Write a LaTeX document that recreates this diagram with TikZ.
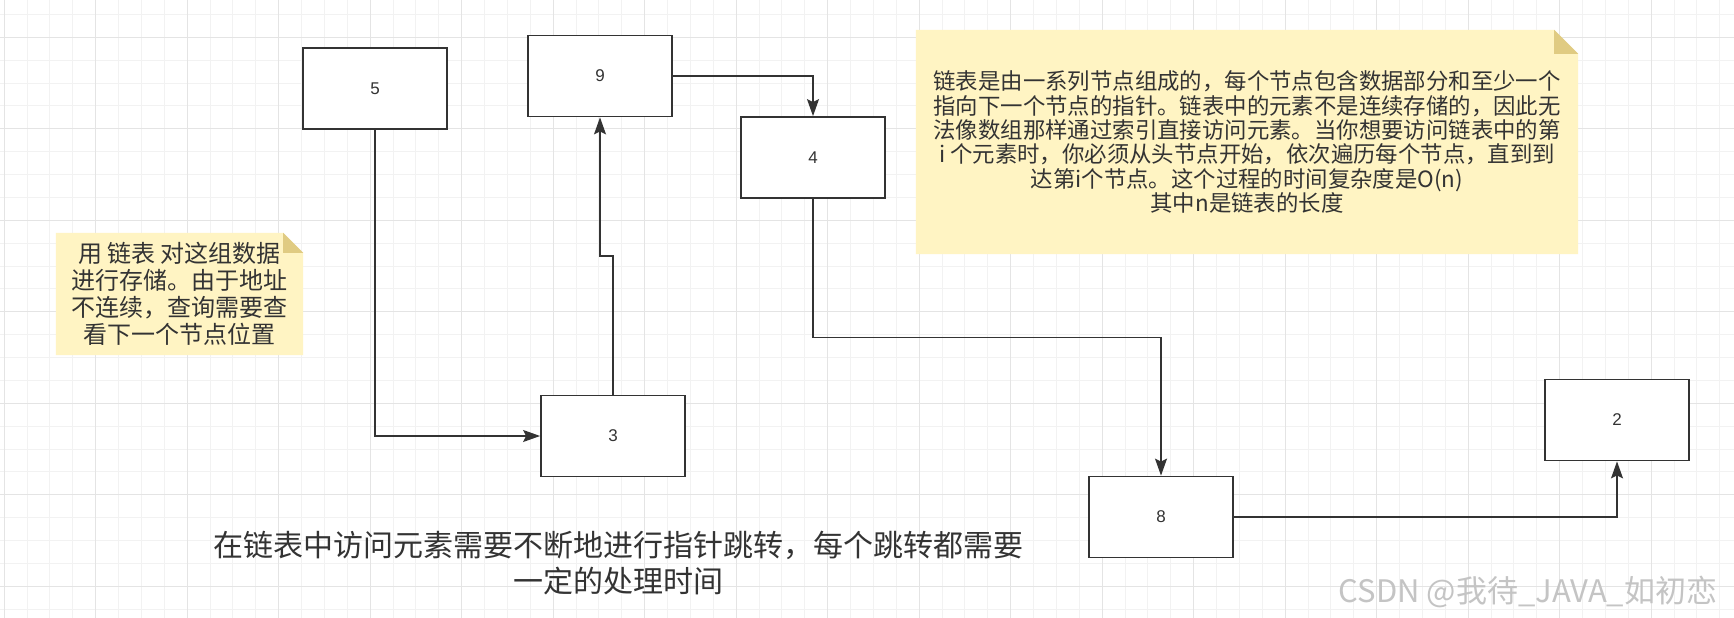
\documentclass[tikz,border=0pt]{standalone}
\usepackage{fontspec}
\setmainfont{Noto Sans CJK SC}
\newfontfamily\numfont{Liberation Sans}
\usepackage{tikz}
\usetikzlibrary{arrows.meta,calc,backgrounds}
\definecolor{inkgray}{RGB}{51,51,51}
\definecolor{notefill}{RGB}{255,244,195}
\definecolor{notefold}{RGB}{224,203,130}
\definecolor{gridminor}{RGB}{242,242,242}
\definecolor{gridmajor}{RGB}{228,228,228}
\definecolor{markgray}{RGB}{196,196,196}
\tikzset{
  cell/.style  = {draw=inkgray, line width=1.8pt, fill=white, minimum width=144pt, minimum height=81pt, inner sep=0pt, text=inkgray, font=\numfont\fontsize{17}{17}\selectfont},
  note/.style  = {align=center, text=inkgray, inner sep=0pt},
  link/.style  = {-{Stealth[length=17pt,width=12pt,inset=3pt]}, draw=inkgray, line width=1.3pt},
}

\begin{document}
\begin{tikzpicture}[x=1pt,y=-1pt]
  \useasboundingbox (0,0) rectangle (1734,618);
  \begin{scope}[on background layer]
    \fill[white] (0,0) rectangle (1734,618);
    \foreach \i in {0,...,75} \draw[gridminor, line width=1pt] ({4.2+\i*22.875},0) -- ++(0,618);
    \foreach \j in {0,...,26} \draw[gridminor, line width=1pt] (0,{14.4+\j*22.875}) -- ++(1734,0);
    \foreach \i in {0,4,...,72} \draw[gridmajor, line width=1pt] ({4.2+\i*22.875},0) -- ++(0,618);
    \foreach \j in {1,5,...,25} \draw[gridmajor, line width=1pt] (0,{14.4+\j*22.875}) -- ++(1734,0);
  \end{scope}

  \node[cell] (n5) at (375,88.5) {5};
  \node[cell] (n9) at (600,76) {9};
  \node[cell] (n4) at (813,157.5) {4};
  \node[cell] (n3) at (613,436) {3};
  \node[cell] (n8) at (1161,517) {8};
  \node[cell] (n2) at (1617,420) {2};

  \node[note, minimum width=662pt, minimum height=224pt, font=\fontsize{22.4}{24.3}\selectfont] (bignote) at (1247,142)
    {链表是由一系列节点组成的，每个节点包含数据部分和至少一个\\
     指向下一个节点的指针。链表中的元素不是连续存储的，因此无\\
     法像数组那样通过索引直接访问元素。当你想要访问链表中的第\\
     i 个元素时，你必须从头节点开始，依次遍历每个节点，直到到\\
     达第i个节点。这个过程的时间复杂度是O(n)\\
     其中n是链表的长度};
  \node[note, minimum width=247pt, minimum height=122pt, font=\fontsize{24}{27.2}\selectfont] (smallnote) at (179.5,294)
    {用 链表 对这组数据\\
     进行存储。由于地址\\
     不连续，查询需要查\\
     看下一个节点位置};
  \node[note, font=\fontsize{30}{36}\selectfont] (remark) at (618,563)
    {在链表中访问元素需要不断地进行指针跳转，每个跳转都需要\\
     一定的处理时间};
  \node[note, text=markgray, font=\fontsize{31}{31}\selectfont] (mark) at (1528,592) {CSDN @我待\_JAVA\_如初恋};

  \begin{scope}[on background layer]
    \fill[notefill] (bignote.north west) -- ($(bignote.north east)+(-24,0)$) -- ($(bignote.north east)+(0,24)$)
      -- (bignote.south east) -- (bignote.south west) -- cycle;
    \fill[notefold] ($(bignote.north east)+(-24,0)$) -- ($(bignote.north east)+(-24,24)$) -- ($(bignote.north east)+(0,24)$) -- cycle;
    \fill[notefill] (smallnote.north west) -- ($(smallnote.north east)+(-20,0)$) -- ($(smallnote.north east)+(0,20)$)
      -- (smallnote.south east) -- (smallnote.south west) -- cycle;
    \fill[notefold] ($(smallnote.north east)+(-20,0)$) -- ($(smallnote.north east)+(-20,20)$) -- ($(smallnote.north east)+(0,20)$) -- cycle;
  \end{scope}

  \draw[link] (n5.south) |- (n3.west);
  \draw[link] (n3.north) |- ($(n3.north)!.5!(n9.south)$) -| (n9.south);
  \draw[link] (n9.east) -| (n4.north);
  \draw[link] (n4.south) |- ($(n4.south)!.5!(n8.north)$) -| (n8.north);
  \draw[link] (n8.east) -| (n2.south);
\end{tikzpicture}
\end{document}
